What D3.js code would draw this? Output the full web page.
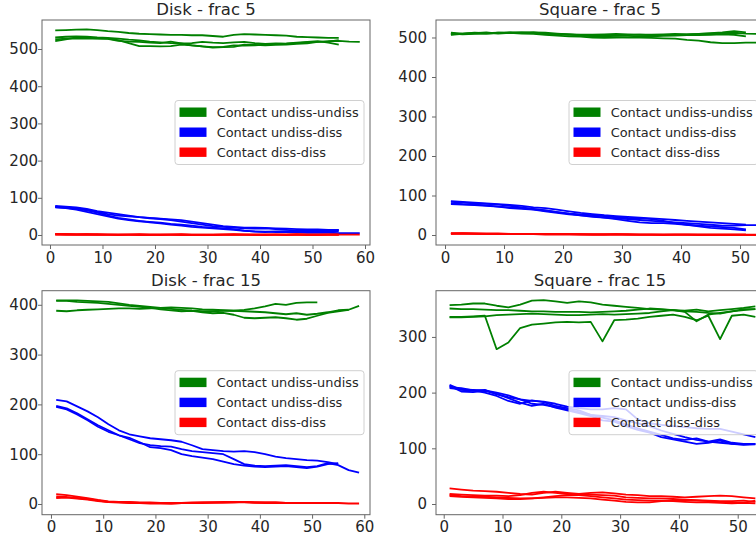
<!DOCTYPE html>
<html>
<head>
<meta charset="utf-8">
<script src="https://cdn.jsdelivr.net/npm/d3@7/dist/d3.min.js"></script>
<style>
    body { margin: 0; background: #fff; }
    text { font-family: "DejaVu Sans", sans-serif; fill: #262626; }
</style>
</head>
<body>
<svg id="chart" width="756" height="538"></svg>
<script>
const d3 = window.d3;

// sample positions (time step) shared by every run
const sampleX = [1, 3, 5, 7, 9, 11, 13, 15, 17, 19, 21, 23, 25, 27, 29, 31, 33, 35, 37, 39, 41, 43, 45, 47, 49, 51, 53, 55, 57, 59];

const categories = ["Contact undiss-undiss", "Contact undiss-diss", "Contact diss-diss"];
const colors = ["green", "blue", "red"];

const xTicksDisk = [0, 10, 20, 30, 40, 50, 60];
const xTicksSquare = [0, 10, 20, 30, 40, 50];
const yTicks500 = [0, 100, 200, 300, 400, 500];
const yTicks400 = [0, 100, 200, 300, 400];
const yTicks300 = [0, 100, 200, 300];

// Disk - frac 5
const diskF5Undiss = [
    [550, 551, 552, 553, 551, 548, 546, 543, 541, 540, 539, 538, 538, 537, 537, 535, 533, 538, 540, 539, 538, 537, 536, 533, 532, 531, 530, 530],
    [531, 533, 534, 533, 531, 530, 528, 525, 523, 520, 518, 516, 515, 516, 519, 517, 516, 518, 519, 516, 514, 515, 514, 516, 518, 519, 521, 522, 520, 519],
    [521, 526, 531, 530, 529, 528, 524, 516, 508, 508, 507, 508, 512, 510, 507, 505, 506, 510, 509, 510, 512, 514, 515, 517, 519, 521, 517, 512],
    [526, 528, 529, 528, 528, 527, 522, 520, 519, 517, 516, 520, 515, 510, 507, 504, 505, 506, 512, 511, 510, 511, 512, 514, 515, 519, 520, 524]
];
const diskF5Mixed = [
    [78, 76, 74, 70, 64, 60, 56, 52, 48, 46, 44, 42, 40, 36, 32, 28, 24, 22, 20, 20, 19, 18, 17, 16, 15, 15, 14, 13],
    [76, 74, 72, 68, 62, 56, 52, 50, 48, 45, 43, 40, 36, 32, 28, 24, 22, 20, 18, 17, 18, 16, 14, 12, 11, 12, 13, 14],
    [74, 72, 68, 62, 56, 50, 44, 40, 37, 35, 33, 30, 28, 25, 22, 20, 18, 16, 12, 9, 8, 10, 10, 9, 8, 8, 9, 10],
    [75, 73, 70, 66, 60, 52, 46, 42, 38, 34, 31, 28, 25, 22, 20, 18, 16, 14, 11, 10, 9, 8, 8, 7, 6, 6, 6, 5, 5, 5]
];
const diskF5Diss = [
    [2, 2, 1, 1, 1, 1, 1, 1, 0, 0, 1, 1, 1, 0, 0, 1, 1, 1, 1, 0, 0, 1, 1, 1, 0, 0, 1, 1],
    [3, 2, 2, 2, 1, 1, 1, 1, 1, 1, 1, 1, 0, 0, 0, 0, 1, 1, 1, 1, 1, 1, 1, 1, 1, 1, 1, 1],
    [1, 2, 1, 1, 2, 1, 1, 1, 2, 1, 1, 1, 2, 1, 1, 1, 1, 2, 1, 1, 1, 1, 1, 2, 1, 1, 1, 1],
    [2, 1, 1, 2, 1, 1, 0, 1, 1, 1, 0, 1, 1, 1, 1, 0, 1, 1, 1, 1, 1, 1, 0, 1, 1, 1, 1, 1, 1, 1]
];

// Square - frac 5
const squareF5Undiss = [
    [512, 510, 511, 513, 510, 512, 513, 511, 509, 508, 507, 506, 505, 506, 505, 506, 507, 507, 508, 509, 508, 509, 511, 513, 516, 513],
    [508, 510, 512, 511, 512, 513, 512, 513, 512, 510, 508, 506, 503, 502, 501, 500, 500, 499, 498, 497, 494, 492, 488, 486, 486, 487, 487],
    [510, 508, 509, 510, 511, 512, 510, 509, 507, 505, 503, 502, 500, 499, 500, 501, 502, 503, 504, 505, 506, 506, 507, 508, 507, 503],
    [507, 509, 511, 510, 512, 511, 512, 513, 510, 509, 508, 507, 507, 508, 509, 508, 507, 506, 506, 507, 508, 509, 510, 511, 512, 510, 509]
];
const squareF5Mixed = [
    [86, 84, 82, 80, 78, 76, 74, 70, 68, 64, 60, 56, 53, 50, 48, 46, 44, 42, 40, 38, 36, 34, 32, 30, 28, 26],
    [84, 82, 80, 79, 77, 74, 70, 66, 62, 58, 54, 52, 50, 48, 45, 43, 42, 40, 36, 30, 26, 24, 22, 20, 18, 14],
    [80, 78, 77, 75, 72, 68, 66, 64, 60, 56, 52, 50, 48, 44, 40, 36, 32, 30, 30, 28, 26, 22, 18, 16, 14, 12],
    [78, 77, 76, 74, 72, 70, 68, 65, 62, 58, 54, 50, 46, 44, 42, 40, 38, 36, 34, 32, 30, 28, 26, 24, 24, 25, 25]
];
const squareF5Diss = [
    [5, 5, 4, 4, 4, 3, 3, 3, 3, 2, 2, 2, 2, 2, 2, 2, 1, 1, 1, 1, 1, 1, 1, 1, 1, 1],
    [4, 4, 4, 3, 3, 3, 3, 2, 2, 2, 2, 2, 1, 1, 1, 1, 1, 1, 1, 1, 1, 0, 0, 0, 0, 0, 0],
    [3, 4, 3, 3, 2, 2, 2, 2, 2, 2, 2, 1, 1, 1, 2, 1, 1, 1, 1, 1, 1, 1, 1, 1, 1, 1],
    [3, 3, 3, 2, 2, 2, 2, 2, 1, 1, 1, 1, 1, 1, 1, 1, 1, 1, 0, 1, 1, 1, 1, 1, 1, 1, 1]
];

// Disk - frac 15
const diskF15Undiss = [
    [409, 409, 409, 408, 407, 406, 403, 400, 398, 396, 394, 392, 390, 388, 387, 387, 388, 388, 390, 393, 397, 402, 400, 404, 405, 405],
    [388, 387, 389, 390, 391, 392, 393, 393, 392, 393, 394, 395, 394, 393, 391, 390, 389, 388, 387, 386, 385, 383, 381, 383, 380, 382, 385, 389, 390],
    [408, 408, 406, 405, 404, 402, 400, 398, 396, 394, 391, 389, 387, 388, 385, 383, 384, 380, 374, 373, 374, 375, 373, 370, 372, 378, 384, 387, 390, 398]
];
const diskF15Mixed = [
    [209, 206, 196, 186, 174, 160, 148, 140, 136, 132, 130, 128, 125, 118, 110, 108, 106, 105, 106, 104, 100, 95, 92, 90, 88, 87, 84, 80],
    [197, 192, 182, 170, 158, 148, 138, 130, 122, 118, 116, 115, 110, 106, 104, 102, 100, 90, 80, 77, 76, 77, 78, 76, 74, 76, 82, 78, 68, 63],
    [195, 190, 180, 168, 155, 145, 138, 133, 124, 114, 112, 108, 100, 96, 93, 90, 85, 80, 77, 75, 74, 75, 76, 74, 72, 75, 80, 82]
];
const diskF15Diss = [
    [20, 18, 15, 12, 8, 5, 4, 4, 3, 3, 2, 2, 2, 3, 3, 3, 3, 4, 4, 3, 3, 3, 2, 2, 2, 2, 2, 2, 1, 1],
    [15, 14, 12, 10, 7, 4, 3, 2, 2, 2, 2, 1, 2, 2, 3, 3, 4, 4, 4, 3, 3, 3, 2, 2, 2, 2, 2, 2],
    [12, 13, 11, 9, 6, 4, 4, 3, 2, 1, 1, 1, 2, 2, 2, 3, 3, 3, 4, 3, 2, 2, 2, 2, 2, 2, 2, 2]
];

// Square - frac 15
const squareF15Undiss = [
    [357, 358, 360, 360, 356, 353, 358, 365, 366, 364, 361, 364, 362, 358, 356, 354, 352, 350, 349, 348, 347, 349, 346, 348, 350, 352, 355],
    [351, 350, 350, 349, 348, 348, 347, 346, 346, 345, 345, 345, 344, 345, 346, 347, 349, 351, 350, 348, 346, 345, 343, 342, 346, 350, 350],
    [336, 336, 337, 338, 278, 290, 316, 322, 324, 326, 327, 326, 327, 292, 330, 331, 333, 336, 338, 340, 336, 330, 338, 296, 338, 340, 336],
    [335, 335, 336, 337, 339, 340, 341, 342, 341, 340, 339, 339, 340, 341, 340, 341, 342, 343, 346, 348, 345, 328, 340, 343, 346, 348, 350]
];
const squareF15Mixed = [
    [214, 205, 203, 205, 197, 192, 188, 185, 184, 180, 175, 172, 170, 170, 172, 170, 152, 145, 142, 140, 138, 136, 135, 135, 130, 125, 120],
    [210, 208, 204, 200, 194, 185, 180, 186, 183, 176, 172, 168, 160, 158, 156, 150, 145, 140, 132, 126, 120, 115, 112, 110, 108, 107, 108],
    [212, 202, 201, 203, 198, 190, 182, 176, 180, 173, 168, 163, 158, 150, 148, 140, 133, 128, 120, 116, 112, 108, 110, 114, 108, 106, 107],
    [208, 206, 205, 204, 200, 195, 188, 180, 178, 174, 170, 165, 160, 155, 150, 143, 136, 130, 124, 118, 115, 118, 112, 116, 110, 108, 108]
];
const squareF15Diss = [
    [28, 26, 24, 23, 22, 20, 18, 17, 20, 22, 20, 18, 20, 21, 19, 17, 16, 14, 14, 13, 12, 13, 14, 15, 14, 12, 10],
    [18, 17, 16, 15, 15, 14, 16, 20, 22, 20, 18, 18, 17, 16, 15, 12, 11, 10, 10, 9, 8, 7, 6, 5, 5, 6, 4],
    [16, 14, 13, 13, 12, 11, 10, 10, 12, 14, 16, 16, 14, 12, 10, 8, 7, 6, 6, 5, 4, 3, 3, 2, 1, 2, 1],
    [14, 13, 12, 11, 10, 9, 9, 10, 11, 12, 12, 11, 10, 8, 6, 4, 3, 3, 5, 6, 7, 6, 5, 4, 3, 2, 6]
];

const panels = [
    { title: "Disk - frac 5", box: { left: 42, right: 370, top: 20, bottom: 245 },
      xDomain: [-1.52, 60.95], yDomain: [-26.9, 578], xTicks: xTicksDisk, yTicks: yTicks500,
      series: [diskF5Undiss, diskF5Mixed, diskF5Diss], labelGap: 2 },
    { title: "Square - frac 5", box: { left: 436, right: 764, top: 20, bottom: 245 },
      xDomain: [-1.53, 54.07], yDomain: [-25.3, 544.3], xTicks: xTicksSquare, yTicks: yTicks500,
      series: [squareF5Undiss, squareF5Mixed, squareF5Diss], labelGap: 7 },
    { title: "Disk - frac 15", box: { left: 42, right: 370, top: 290.7, bottom: 514.7 },
      xDomain: [-1.72, 61.09], yDomain: [-21.5, 428.3], xTicks: xTicksDisk, yTicks: yTicks400,
      series: [diskF15Undiss, diskF15Mixed, diskF15Diss], labelGap: 2 },
    { title: "Square - frac 15", box: { left: 436, right: 764, top: 290.7, bottom: 514.7 },
      xDomain: [-1.31, 54.47], yDomain: [-19.2, 383], xTicks: xTicksSquare, yTicks: yTicks300,
      series: [squareF15Undiss, squareF15Mixed, squareF15Diss], labelGap: 7 }
];

const svg = d3.select("#chart");
const spineColor = "#666";

const drawPanel = (p, idx) => {
    const { box } = p;
    const xScale = d3.scaleLinear().domain(p.xDomain).range([box.left, box.right]);
    const yScale = d3.scaleLinear().domain(p.yDomain).range([box.bottom, box.top]);
    const g = svg.append("g");

    const clipId = `clip${idx}`;
    g.append("clipPath").attr("id", clipId)
        .append("rect")
        .attr("x", box.left).attr("y", box.top)
        .attr("width", box.right - box.left).attr("height", box.bottom - box.top);

    // lines
    const line = d3.line()
        .x((d) => xScale(d[0]))
        .y((d) => yScale(d[1]));

    const lineGroup = g.append("g").attr("clip-path", `url(#${clipId})`);
    p.series.forEach((runs, ci) => {
        lineGroup.selectAll(null)
            .data(runs.map((r) => r.map((v, i) => [sampleX[i], v])))
            .join("path")
            .attr("d", line)
            .style("fill", "none")
            .style("stroke", colors[ci])
            .style("stroke-width", 1.8)
            .style("stroke-linejoin", "round");
    });

    // axes
    const xAxis = d3.axisBottom(xScale).tickValues(p.xTicks).tickSize(4).tickPadding(3);
    g.append("g")
        .attr("transform", `translate(0, ${box.bottom})`)
        .call(xAxis)
        .call((a) => a.select(".domain").remove())
        .call((a) => a.selectAll(".tick line").attr("stroke", spineColor))
        .call((a) => a.selectAll("text").style("font-size", "15px").attr("fill", "#262626")
            .attr("font-family", "DejaVu Sans"));

    const yAxis = d3.axisLeft(yScale).tickValues(p.yTicks).tickSize(4).tickPadding(p.labelGap - 2);
    g.append("g")
        .attr("transform", `translate(${box.left}, 0)`)
        .call(yAxis)
        .call((a) => a.select(".domain").remove())
        .call((a) => a.selectAll(".tick line").attr("stroke", spineColor))
        .call((a) => a.selectAll("text").style("font-size", "15px").attr("fill", "#262626")
            .attr("font-family", "DejaVu Sans"));

    g.append("rect")
        .attr("x", box.left).attr("y", box.top)
        .attr("width", box.right - box.left).attr("height", box.bottom - box.top)
        .style("fill", "none").style("stroke", spineColor).style("stroke-width", 1);

    // title
    g.append("text")
        .attr("x", (box.left + box.right) / 2)
        .attr("y", box.top - 5)
        .attr("text-anchor", "middle")
        .style("font-size", "16.5px")
        .text(p.title);

    // legend, center right
    const lw = 189, lh = 64;
    const lx = box.right - 6 - lw;
    const ly = (box.top + box.bottom) / 2 - lh / 2;
    const legend = g.append("g").attr("transform", `translate(${lx}, ${ly})`);
    legend.append("rect")
        .attr("width", lw).attr("height", lh).attr("rx", 3)
        .style("fill", "white").style("fill-opacity", 0.8)
        .style("stroke", "#d0d0d0").style("stroke-width", 1);
    const items = legend.selectAll(".item")
        .data(categories)
        .join("g")
        .attr("transform", (d, i) => `translate(0, ${11.7 + i * 20})`);
    items.append("rect")
        .attr("x", 4.5).attr("y", -4.7).attr("width", 27).attr("height", 9.4)
        .style("fill", (d, i) => colors[i]);
    items.append("text")
        .attr("x", 41.7).attr("dy", "0.35em")
        .style("font-size", "12.9px")
        .text((d) => d);
};

panels.forEach(drawPanel);
</script>
</body>
</html>
